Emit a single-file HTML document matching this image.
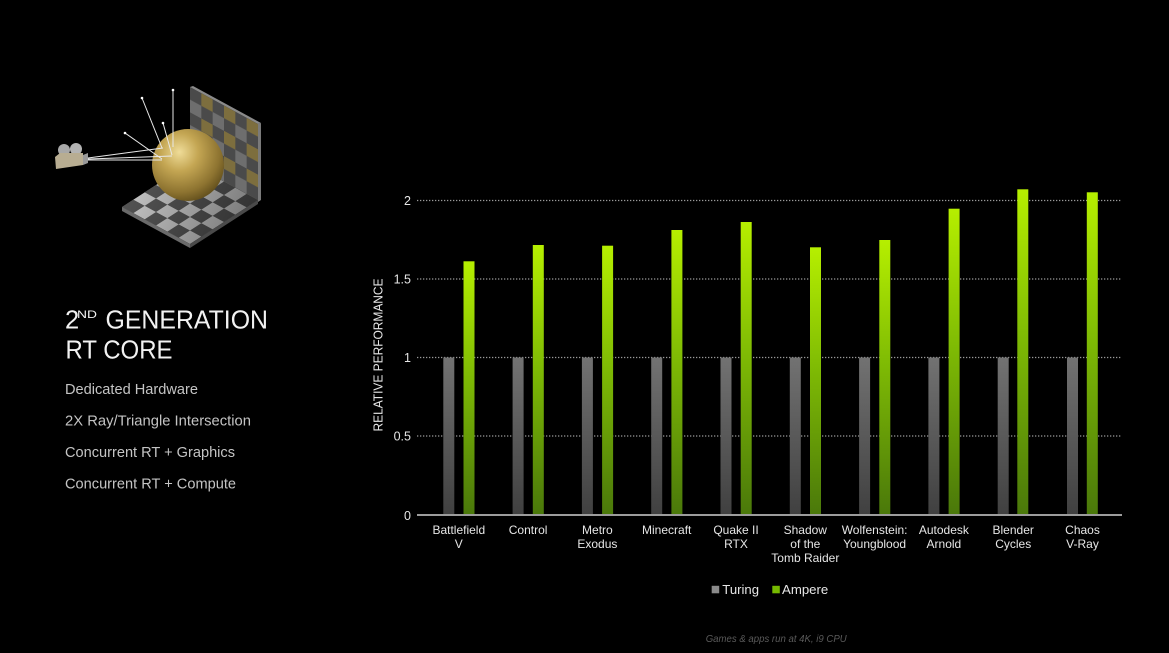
<!DOCTYPE html>
<html>
<head>
<meta charset="utf-8">
<style>
  html,body{margin:0;padding:0;background:#000;}
  body{width:1169px;height:653px;overflow:hidden;}
  svg{display:block;}
  text{font-family:"Liberation Sans", Arial, sans-serif;}
</style>
</head>
<body>
<svg width="1169" height="653" viewBox="0 0 1169 653" xmlns="http://www.w3.org/2000/svg">
  <defs>
    <linearGradient id="gGreen" x1="0" y1="0" x2="0" y2="1">
      <stop offset="0" stop-color="#b6ef00"/>
      <stop offset="0.45" stop-color="#7fbb04"/>
      <stop offset="1" stop-color="#4a780a"/>
    </linearGradient>
    <linearGradient id="gGray" x1="0" y1="0" x2="0" y2="1">
      <stop offset="0" stop-color="#727272"/>
      <stop offset="1" stop-color="#404040"/>
    </linearGradient>
    <radialGradient id="gSphere" cx="0.38" cy="0.32" r="0.75">
      <stop offset="0" stop-color="#efdc98"/>
      <stop offset="0.35" stop-color="#c4a653"/>
      <stop offset="0.75" stop-color="#8d7330"/>
      <stop offset="1" stop-color="#5a4818"/>
    </radialGradient>
    <pattern id="pFloor" patternUnits="userSpaceOnUse" width="2" height="2"
             patternTransform="matrix(-11.33 7.33 11.33 6.17 190 163)">
      <rect x="0" y="0" width="2" height="2" fill="#585858"/>
      <rect x="0" y="0" width="1" height="1" fill="#d0d0d0"/>
      <rect x="1" y="1" width="1" height="1" fill="#d0d0d0"/>
    </pattern>
    <pattern id="pWall" patternUnits="userSpaceOnUse" width="2" height="2"
             patternTransform="matrix(11.33 6.17 0 -12.67 190 163)">
      <rect x="0" y="0" width="2" height="2" fill="#4a4a4a"/>
      <rect x="0" y="0" width="1" height="1" fill="#6e6e6e"/>
      <rect x="1" y="1" width="1" height="1" fill="#7d6e3e"/>
    </pattern>
    <linearGradient id="gFloorShade" x1="0" y1="0" x2="1" y2="0.3">
      <stop offset="0" stop-color="#000" stop-opacity="0"/>
      <stop offset="1" stop-color="#000" stop-opacity="0.4"/>
    </linearGradient>
  </defs>

  <!-- Illustration -->
  <g>
    <!-- wall -->
    <polygon points="190,87 258,124 258,200 190,163" fill="url(#pWall)"/>
    <polygon points="258,124 261,123 261,200 258,202" fill="#7a7a7a"/>
    <polygon points="190,87 193,86 261,123 258,124" fill="#8a8a8a"/>
    <!-- floor -->
    <polygon points="190,163 122,207 190,244 258,200" fill="url(#pFloor)"/>
    <polygon points="190,163 122,207 190,244 258,200" fill="url(#gFloorShade)"/>
    <polygon points="122,207 190,244 190,248 122,211" fill="#6a6a6a"/>
    <polygon points="190,244 258,200 258,204 190,248" fill="#4a4a4a"/>
    <!-- sphere -->
    <circle cx="188" cy="165" r="36" fill="url(#gSphere)"/>
    <!-- camera -->
    <circle cx="64" cy="150" r="6" fill="#a8a8a8"/>
    <circle cx="76" cy="149" r="6" fill="#b4b4b4"/>
    <polygon points="55,157 60,153 83,153 83,165 56,169" fill="#b8ad92"/>
    <polygon points="83,155 88,153 88,163 83,165" fill="#999"/>
    <!-- rays -->
    <g stroke="#e8e8e8" stroke-width="1" fill="none">
      <line x1="88" y1="158" x2="163" y2="148"/>
      <line x1="88" y1="159" x2="172" y2="156"/>
      <line x1="88" y1="160" x2="162" y2="160"/>
      <line x1="162" y1="148" x2="142" y2="98"/>
      <line x1="173" y1="147" x2="173" y2="90"/>
      <line x1="172" y1="155" x2="163" y2="123"/>
      <line x1="162" y1="159" x2="125" y2="133"/>
    </g>
    <g fill="#fff">
      <circle cx="142" cy="98" r="1.3"/>
      <circle cx="173" cy="90" r="1.3"/>
      <circle cx="163" cy="123" r="1.3"/>
      <circle cx="125" cy="133" r="1.3"/>
    </g>
  </g>

  <!-- Left text -->
  <text y="328.3" fill="#f2f2f2" font-size="25.5"><tspan x="65">2</tspan><tspan x="77" y="318" font-size="11" textLength="20" lengthAdjust="spacingAndGlyphs">ND</tspan><tspan x="105.5" y="328.3" textLength="162.5" lengthAdjust="spacingAndGlyphs">GENERATION</tspan></text>
  <text x="65.5" y="358.3" fill="#f2f2f2" font-size="25.5" textLength="107" lengthAdjust="spacingAndGlyphs">RT CORE</text>

  <g fill="#c4c4c4" font-size="14.5">
    <text x="65" y="394" textLength="133" lengthAdjust="spacingAndGlyphs">Dedicated Hardware</text>
    <text x="65" y="425.5" textLength="186" lengthAdjust="spacingAndGlyphs">2X Ray/Triangle Intersection</text>
    <text x="65" y="457" textLength="170" lengthAdjust="spacingAndGlyphs">Concurrent RT + Graphics</text>
    <text x="65" y="488.5" textLength="171" lengthAdjust="spacingAndGlyphs">Concurrent RT + Compute</text>
  </g>

  <!-- Gridlines -->
  <g stroke="#9a9a9a" stroke-width="1.3" stroke-dasharray="1.3 1.7">
    <line x1="417" y1="200.5" x2="1122" y2="200.5"/>
    <line x1="417" y1="279" x2="1122" y2="279"/>
    <line x1="417" y1="357.5" x2="1122" y2="357.5"/>
    <line x1="417" y1="436" x2="1122" y2="436"/>
  </g>

  <!-- Y ticks -->
  <g fill="#e6e6e6" font-size="12.5" text-anchor="end">
    <text x="411" y="205">2</text>
    <text x="411" y="283.5">1.5</text>
    <text x="411" y="362">1</text>
    <text x="411" y="440.5">0.5</text>
    <text x="411" y="520">0</text>
  </g>

  <!-- Y axis label -->
  <text transform="translate(382.5,355) rotate(-90)" fill="#e6e6e6" font-size="13" text-anchor="middle" textLength="153" lengthAdjust="spacingAndGlyphs">RELATIVE PERFORMANCE</text>

  <!-- Bars -->
  <g>
    <rect x="443.3" y="357.5" width="11" height="157.5" fill="url(#gGray)"/>
    <rect x="512.6" y="357.5" width="11" height="157.5" fill="url(#gGray)"/>
    <rect x="581.9" y="357.5" width="11" height="157.5" fill="url(#gGray)"/>
    <rect x="651.2" y="357.5" width="11" height="157.5" fill="url(#gGray)"/>
    <rect x="720.5" y="357.5" width="11" height="157.5" fill="url(#gGray)"/>
    <rect x="789.8" y="357.5" width="11" height="157.5" fill="url(#gGray)"/>
    <rect x="859.1" y="357.5" width="11" height="157.5" fill="url(#gGray)"/>
    <rect x="928.4" y="357.5" width="11" height="157.5" fill="url(#gGray)"/>
    <rect x="997.7" y="357.5" width="11" height="157.5" fill="url(#gGray)"/>
    <rect x="1067.0" y="357.5" width="11" height="157.5" fill="url(#gGray)"/>
    <rect x="463.5" y="261.3" width="11" height="253.7" fill="url(#gGreen)"/>
    <rect x="532.8" y="245" width="11" height="270" fill="url(#gGreen)"/>
    <rect x="602.1" y="245.7" width="11" height="269.3" fill="url(#gGreen)"/>
    <rect x="671.4" y="230" width="11" height="285" fill="url(#gGreen)"/>
    <rect x="740.7" y="222" width="11" height="293" fill="url(#gGreen)"/>
    <rect x="810.0" y="247.3" width="11" height="267.7" fill="url(#gGreen)"/>
    <rect x="879.3" y="240" width="11" height="275" fill="url(#gGreen)"/>
    <rect x="948.6" y="208.7" width="11" height="306.3" fill="url(#gGreen)"/>
    <rect x="1017.3" y="189.3" width="11" height="325.7" fill="url(#gGreen)"/>
    <rect x="1086.8" y="192.3" width="11" height="322.7" fill="url(#gGreen)"/>
  </g>

  <!-- X axis -->
  <line x1="417" y1="515" x2="1122" y2="515" stroke="#9c9c9c" stroke-width="2"/>

  <!-- Category labels -->
  <g fill="#e6e6e6" font-size="12" text-anchor="middle">
    <text x="458.8" y="534">Battlefield</text>
    <text x="458.8" y="548">V</text>
    <text x="528.1" y="534">Control</text>
    <text x="597.4" y="534">Metro</text>
    <text x="597.4" y="548">Exodus</text>
    <text x="666.7" y="534">Minecraft</text>
    <text x="736.0" y="534">Quake II</text>
    <text x="736.0" y="548">RTX</text>
    <text x="805.3" y="534">Shadow</text>
    <text x="805.3" y="548">of the</text>
    <text x="805.3" y="562">Tomb Raider</text>
    <text x="874.6" y="534">Wolfenstein:</text>
    <text x="874.6" y="548">Youngblood</text>
    <text x="943.9" y="534">Autodesk</text>
    <text x="943.9" y="548">Arnold</text>
    <text x="1013.2" y="534">Blender</text>
    <text x="1013.2" y="548">Cycles</text>
    <text x="1082.5" y="534">Chaos</text>
    <text x="1082.5" y="548">V-Ray</text>
  </g>

  <!-- Legend -->
  <rect x="711.7" y="585.8" width="7.5" height="7.5" fill="#8a8a8a"/>
  <text x="722.3" y="594" fill="#e6e6e6" font-size="12.5" textLength="36.7" lengthAdjust="spacingAndGlyphs">Turing</text>
  <rect x="772.3" y="585.8" width="7.5" height="7.5" fill="#76b900"/>
  <text x="782" y="594" fill="#e6e6e6" font-size="12.5" textLength="46.3" lengthAdjust="spacingAndGlyphs">Ampere</text>

  <!-- Footnote -->
  <text x="705.7" y="642" fill="#5a5a5a" font-size="10.5" font-style="italic" textLength="141" lengthAdjust="spacingAndGlyphs">Games &amp; apps run at 4K, i9 CPU</text>
</svg>
</body>
</html>
